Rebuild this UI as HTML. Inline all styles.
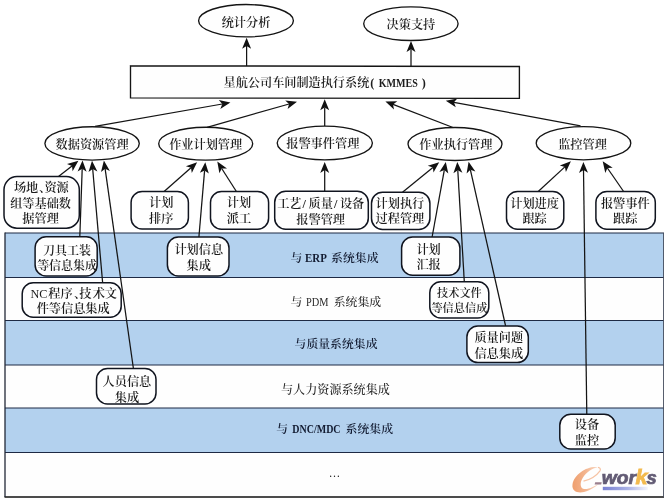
<!DOCTYPE html>
<html lang="zh"><head><meta charset="utf-8"><title>KMMES</title>
<style>
html,body{margin:0;padding:0;background:#ffffff;}
body{width:667px;height:502px;overflow:hidden;}
svg{display:block;will-change:transform;transform:translateZ(0);}
.t{font-family:"Liberation Serif","Noto Serif CJK SC","Noto Sans CJK SC",serif;font-size:12.2px;font-weight:600;fill:#1c1c1c;}
.ln{stroke:#141414;stroke-width:1.25;fill:none;}
.sh{stroke:#141414;stroke-width:1.35;fill:#fefefe;}
</style></head><body>
<svg width="667" height="502" viewBox="0 0 667 502">
<defs><linearGradient id="ug" x1="0" x2="1" y1="0" y2="0"><stop offset="0" stop-color="#7880d2"/><stop offset="0.55" stop-color="#aab2e6"/><stop offset="1" stop-color="#f4f5fc"/></linearGradient><linearGradient id="eg" x1="0" x2="1" y1="0" y2="0"><stop offset="0" stop-color="#ef9f6e"/><stop offset="0.45" stop-color="#f3b48e"/><stop offset="1" stop-color="#fae0cf"/></linearGradient></defs>
<rect x="0" y="0" width="667" height="502" fill="#ffffff"/>
<rect x="5" y="233" width="659" height="44.5" fill="#b3d1ee"/>
<rect x="5" y="277.5" width="659" height="43" fill="#fefefe"/>
<rect x="5" y="320.5" width="659" height="44.5" fill="#b3d1ee"/>
<rect x="5" y="365" width="659" height="43" fill="#fefefe"/>
<rect x="5" y="408" width="659" height="44.5" fill="#b3d1ee"/>
<rect x="5" y="452.5" width="659" height="44.5" fill="#fefefe"/>
<line x1="5" y1="233" x2="664" y2="233" stroke="#1e2a44" stroke-width="1.2"/>
<line x1="5" y1="277.5" x2="664" y2="277.5" stroke="#1e2a44" stroke-width="1.2"/>
<line x1="5" y1="320.5" x2="664" y2="320.5" stroke="#1e2a44" stroke-width="1.2"/>
<line x1="5" y1="365" x2="664" y2="365" stroke="#1e2a44" stroke-width="1.2"/>
<line x1="5" y1="408" x2="664" y2="408" stroke="#1e2a44" stroke-width="1.2"/>
<line x1="5" y1="452.5" x2="664" y2="452.5" stroke="#1e2a44" stroke-width="1.2"/>
<line x1="4.5" y1="497" x2="664" y2="497" stroke="#111" stroke-width="1.6"/>
<line x1="5" y1="232.5" x2="5" y2="497" stroke="#232836" stroke-width="1.3"/>
<line x1="663.5" y1="233" x2="663.5" y2="497" stroke="#454c5c" stroke-width="0.9"/>
<text class="t" x="290.4" y="261.5" text-anchor="start" style="font-size:11.9px;fill:#131c32">与</text>
<text class="t" x="305" y="261.5" text-anchor="start" style="font-size:11.9px;fill:#131c32;font-weight:bold" textLength="21.8" lengthAdjust="spacingAndGlyphs">ERP</text>
<text class="t" x="331" y="261.5" text-anchor="start" style="font-size:11.9px;fill:#131c32">系统集成</text>
<text class="t" x="290.4" y="305.8" text-anchor="start" style="font-size:11.9px;fill:#2a2a2a;font-weight:500">与</text>
<text class="t" x="306.1" y="305.8" text-anchor="start" style="font-size:11.9px;fill:#2a2a2a;font-weight:500" textLength="22.5" lengthAdjust="spacingAndGlyphs">PDM</text>
<text class="t" x="333.7" y="305.8" text-anchor="start" style="font-size:11.9px;fill:#2a2a2a;font-weight:500">系统集成</text>
<text class="t" x="294.6" y="348" text-anchor="start" style="font-size:11.85px;fill:#131c32">与质量系统集成</text>
<text class="t" x="281" y="394" text-anchor="start" style="font-size:12.1px;fill:#2a2a2a;font-weight:500">与人力资源系统集成</text>
<text class="t" x="276.2" y="432.6" text-anchor="start" style="font-size:11.9px;fill:#131c32">与</text>
<text class="t" x="292.3" y="432.6" text-anchor="start" style="font-size:11.9px;fill:#131c32;font-weight:bold" textLength="48.3" lengthAdjust="spacingAndGlyphs">DNC/MDC</text>
<text class="t" x="345.5" y="432.6" text-anchor="start" style="font-size:11.9px;fill:#131c32">系统集成</text>
<text class="t" x="334.4" y="477.2" text-anchor="middle" style="font-weight:400;font-size:11.5px">…</text>
<line class="ln" x1="58.5" y1="176.6" x2="72.0" y2="165.9"/>
<polygon fill="#111" points="78.4,160.8 72.6,171.2 72.0,165.9 67.0,164.1"/>
<line class="ln" x1="79.8" y1="237.0" x2="82.2" y2="168.8"/>
<polygon fill="#111" points="82.5,160.6 86.6,171.8 82.2,168.8 77.6,171.4"/>
<line class="ln" x1="102.6" y1="282.4" x2="92.7" y2="169.0"/>
<polygon fill="#111" points="92.0,160.8 97.4,171.4 92.7,169.0 88.5,172.1"/>
<line class="ln" x1="133.4" y1="368.5" x2="105.1" y2="168.7"/>
<polygon fill="#111" points="103.9,160.6 109.9,170.9 105.1,168.7 101.0,172.1"/>
<line class="ln" x1="164.1" y1="191.5" x2="191.0" y2="167.7"/>
<polygon fill="#111" points="197.1,162.3 191.8,173.0 191.0,167.7 185.9,166.2"/>
<line class="ln" x1="198.9" y1="237.0" x2="204.6" y2="170.4"/>
<polygon fill="#111" points="205.3,162.2 208.8,173.5 204.6,170.4 199.9,172.8"/>
<line class="ln" x1="236.4" y1="191.5" x2="221.7" y2="168.5"/>
<polygon fill="#111" points="217.3,161.6 227.0,168.4 221.7,168.5 219.4,173.3"/>
<line class="ln" x1="324.7" y1="191.3" x2="324.7" y2="170.1"/>
<polygon fill="#111" points="324.7,161.9 329.2,172.9 324.7,170.1 320.2,172.9"/>
<line class="ln" x1="402.5" y1="192.2" x2="432.9" y2="167.4"/>
<polygon fill="#111" points="439.2,162.2 433.5,172.6 432.9,167.4 427.8,165.7"/>
<line class="ln" x1="432.1" y1="237.0" x2="444.3" y2="170.1"/>
<polygon fill="#111" points="445.8,162.0 448.3,173.6 444.3,170.1 439.4,172.0"/>
<line class="ln" x1="464.3" y1="281.8" x2="457.8" y2="170.2"/>
<polygon fill="#111" points="457.3,162.0 462.4,172.7 457.8,170.2 453.4,173.2"/>
<line class="ln" x1="505.6" y1="326.0" x2="470.4" y2="169.8"/>
<polygon fill="#111" points="468.6,161.8 475.4,171.5 470.4,169.8 466.6,173.5"/>
<line class="ln" x1="538.2" y1="191.5" x2="564.9" y2="166.9"/>
<polygon fill="#111" points="570.9,161.3 565.9,172.1 564.9,166.9 559.8,165.5"/>
<line class="ln" x1="586.8" y1="414.2" x2="583.5" y2="170.1"/>
<polygon fill="#111" points="583.4,161.9 588.0,172.8 583.5,170.1 579.0,173.0"/>
<line class="ln" x1="623.6" y1="191.5" x2="607.4" y2="168.0"/>
<polygon fill="#111" points="602.7,161.3 612.7,167.8 607.4,168.0 605.3,172.9"/>
<line class="ln" x1="95.0" y1="126.4" x2="222.3" y2="104.0"/>
<polygon fill="#111" points="230.4,102.6 220.3,108.9 222.3,104.0 218.8,100.1"/>
<line class="ln" x1="207.0" y1="127.3" x2="289.1" y2="104.0"/>
<polygon fill="#111" points="297.0,101.8 287.6,109.1 289.1,104.0 285.2,100.5"/>
<line class="ln" x1="324.7" y1="126.2" x2="324.7" y2="107.5"/>
<polygon fill="#111" points="324.7,99.3 329.2,110.3 324.7,107.5 320.2,110.3"/>
<line class="ln" x1="453.0" y1="127.5" x2="393.0" y2="104.4"/>
<polygon fill="#111" points="385.4,101.4 397.3,101.2 393.0,104.4 394.0,109.6"/>
<line class="ln" x1="580.5" y1="125.8" x2="453.9" y2="102.3"/>
<polygon fill="#111" points="445.8,100.8 457.4,98.4 453.9,102.3 455.8,107.2"/>
<line class="ln" x1="246.6" y1="66.0" x2="246.6" y2="46.0"/>
<polygon fill="#111" points="246.6,37.8 251.1,48.8 246.6,46.0 242.1,48.8"/>
<line class="ln" x1="411.0" y1="66.3" x2="411.0" y2="49.2"/>
<polygon fill="#111" points="411.0,41.0 415.5,52.0 411.0,49.2 406.5,52.0"/>
<ellipse class="sh" cx="246" cy="20.7" rx="47.4" ry="16.2"/>
<text class="t" x="246" y="26.9" text-anchor="middle">统计分析</text>
<ellipse class="sh" cx="410.9" cy="23.7" rx="47.2" ry="16.8"/>
<text class="t" x="410.9" y="28.9" text-anchor="middle">决策支持</text>
<ellipse class="sh" cx="92.1" cy="143.4" rx="47.2" ry="16.7"/>
<text class="t" x="92.1" y="148.6" text-anchor="middle">数据资源管理</text>
<ellipse class="sh" cx="205.7" cy="143.7" rx="47" ry="16.4"/>
<text class="t" x="205.7" y="148.9" text-anchor="middle">作业计划管理</text>
<ellipse class="sh" cx="324.8" cy="143" rx="47.6" ry="16.9"/>
<text class="t" x="322.8" y="148.2" text-anchor="middle">报警事件管理</text>
<ellipse class="sh" cx="455" cy="144" rx="47" ry="16.5"/>
<text class="t" x="455.9" y="149.2" text-anchor="middle">作业执行管理</text>
<ellipse class="sh" cx="583.5" cy="143.2" rx="47.3" ry="16.6"/>
<text class="t" x="582.5" y="149.2" text-anchor="middle">监控管理</text>
<polygon class="sh" points="130.5,65.8 519.4,66.5 519.4,98.4 130.5,97.9"/>
<text class="t" x="223.6" y="86.6" text-anchor="start" style="font-size:12.15px;fill:#1c1c1c">星航公司车间制造执行系统</text>
<text class="t" x="370.3" y="86.6" text-anchor="start" style="font-size:12.15px;fill:#1c1c1c">(</text>
<text class="t" x="378.7" y="86.6" text-anchor="start" style="font-size:12.15px;fill:#1c1c1c;font-weight:bold" textLength="39.3" lengthAdjust="spacingAndGlyphs">KMMES</text>
<text class="t" x="421.8" y="86.6" text-anchor="start" style="font-size:12.15px;fill:#1c1c1c">)</text>
<rect class="sh" style="stroke-width:1.5;stroke:#10141f" x="4" y="176.6" width="75.3" height="51.6" rx="13" ry="13"/>
<text class="t" x="0" y="192.1" text-anchor="start"><tspan x="13.9">场地</tspan><tspan x="39">、</tspan><tspan x="44.4">资源</tspan></text>
<text class="t" x="40.6" y="207.6" text-anchor="middle">组等基础数</text>
<text class="t" x="40.6" y="223" text-anchor="middle">据管理</text>
<rect class="sh" style="stroke-width:1.5;stroke:#10141f" x="131.1" y="191.5" width="57.3" height="37.4" rx="11" ry="11"/>
<text class="t" x="161.2" y="207.1" text-anchor="middle">计划</text>
<text class="t" x="161.2" y="222.7" text-anchor="middle">排序</text>
<rect class="sh" style="stroke-width:1.5;stroke:#10141f" x="210.5" y="191.5" width="58.1" height="37.7" rx="11" ry="11"/>
<text class="t" x="238.9" y="207.1" text-anchor="middle">计划</text>
<text class="t" x="238.9" y="222.7" text-anchor="middle">派工</text>
<rect class="sh" style="stroke-width:1.5;stroke:#10141f" x="274.7" y="191.3" width="93.6" height="37.9" rx="11" ry="11"/>
<text class="t" x="320.7" y="207.9" text-anchor="middle">工艺<tspan dx="1.0">/</tspan><tspan dx="2.6">质量</tspan><tspan dx="1.0">/</tspan><tspan dx="2.6">设备</tspan></text>
<text class="t" x="320.7" y="223.5" text-anchor="middle">报警管理</text>
<rect class="sh" style="stroke-width:1.5;stroke:#10141f" x="371.5" y="192.2" width="58.4" height="37.3" rx="11" ry="11"/>
<text class="t" x="399.9" y="208" text-anchor="middle">计划执行</text>
<text class="t" x="399.9" y="223.4" text-anchor="middle">过程管理</text>
<rect class="sh" style="stroke-width:1.5;stroke:#10141f" x="506.5" y="191.5" width="57.3" height="37.8" rx="11" ry="11"/>
<text class="t" x="534.6" y="207.9" text-anchor="middle">计划进度</text>
<text class="t" x="534.6" y="223.4" text-anchor="middle">跟踪</text>
<rect class="sh" style="stroke-width:1.5;stroke:#10141f" x="595.9" y="191.5" width="59.4" height="37.8" rx="11" ry="11"/>
<text class="t" x="625.3" y="207.9" text-anchor="middle">报警事件</text>
<text class="t" x="625.3" y="223.4" text-anchor="middle">跟踪</text>
<rect class="sh" style="stroke-width:1.5;stroke:#10141f" x="35.1" y="236.8" width="62.1" height="39.1" rx="11" ry="11"/>
<text class="t" x="67" y="254.5" text-anchor="middle" style="font-size:11.95px">刀具工装</text>
<text class="t" x="67" y="269.9" text-anchor="middle" style="font-size:11.95px">等信息集成</text>
<rect class="sh" style="stroke-width:1.5;stroke:#10141f" x="167.4" y="237" width="61.6" height="38.9" rx="11" ry="11"/>
<text class="t" x="198.8" y="254.2" text-anchor="middle">计划信息</text>
<text class="t" x="198.8" y="269.7" text-anchor="middle">集成</text>
<rect class="sh" style="stroke-width:1.5;stroke:#10141f" x="401.6" y="237" width="58.3" height="38.2" rx="11" ry="11"/>
<text class="t" x="428.6" y="254" text-anchor="middle">计划</text>
<text class="t" x="428.6" y="269.4" text-anchor="middle">汇报</text>
<rect class="sh" style="stroke-width:1.5;stroke:#10141f" x="22.2" y="282.7" width="99" height="34.5" rx="11" ry="11"/>
<text class="t" x="0" y="298.1" text-anchor="start"><tspan x="30.4" style="font-weight:400">NC</tspan><tspan x="48.3">程序</tspan><tspan x="74">、</tspan><tspan x="79.3">技</tspan><tspan x="92.8">术</tspan><tspan x="104.8">文</tspan></text>
<text class="t" x="73.2" y="313.4" text-anchor="middle">件等信息集成</text>
<rect class="sh" style="stroke-width:1.5;stroke:#10141f" x="429.8" y="281.8" width="59" height="36.2" rx="11" ry="11"/>
<text class="t" x="459.4" y="297.1" text-anchor="middle" style="font-size:11.2px">技术文件</text>
<text class="t" x="459.4" y="311.8" text-anchor="middle" style="font-size:11.2px">等信息信成</text>
<rect class="sh" style="stroke-width:1.5;stroke:#10141f" x="466.9" y="326" width="61.4" height="36.6" rx="11" ry="11"/>
<text class="t" x="498.8" y="342.2" text-anchor="middle">质量问题</text>
<text class="t" x="498.8" y="357.7" text-anchor="middle">信息集成</text>
<rect class="sh" style="stroke-width:1.5;stroke:#10141f" x="96.5" y="368.5" width="59.5" height="35.5" rx="11" ry="11"/>
<text class="t" x="126.9" y="385.6" text-anchor="middle">人员信息</text>
<text class="t" x="126.9" y="402" text-anchor="middle">集成</text>
<rect class="sh" style="stroke-width:1.5;stroke:#10141f" x="559.8" y="414.2" width="55.4" height="34.7" rx="11" ry="11"/>
<text class="t" x="586.9" y="429.2" text-anchor="middle">设备</text>
<text class="t" x="586.9" y="445" text-anchor="middle">监控</text>
<g id="logo">
<path d="M598,467.3 C588,465.5 574,474 572.5,484.5 C571.5,491.5 578,493.5 584,492 C591,490.3 597,486 600.8,482.3 C595,486.5 588,489.8 584,489 C579.5,488 580,482 583,477.5 C586.5,472 592,468.5 598,467.3 Z" fill="url(#eg)"/>
<path d="M583.5,481.2 C590,479.5 597,475 600,470.8 C601,468.8 599.8,467.4 598,467.3" stroke="#f6c3a4" stroke-width="1.2" fill="none"/>
<path d="M595.2,482.2 L601.8,482.2 L601.2,484.6 L594.6,484.6 Z" fill="#9a7f8e"/>
<text x="601.8" y="484" font-family="'Liberation Sans',sans-serif" font-weight="bold" font-style="italic" font-size="17.5" fill="#625b74" stroke="#625b74" stroke-width="0.7" textLength="34.2" lengthAdjust="spacingAndGlyphs">wor</text>
<text x="635.6" y="484.4" font-family="'Liberation Sans',sans-serif" font-weight="bold" font-style="italic" font-size="20.5" fill="#f3ba4e" stroke="#f3ba4e" stroke-width="0.8" textLength="12" lengthAdjust="spacingAndGlyphs">k</text>
<text x="646.6" y="484" font-family="'Liberation Sans',sans-serif" font-weight="bold" font-style="italic" font-size="17.5" fill="#625b74" stroke="#625b74" stroke-width="0.7" textLength="10.2" lengthAdjust="spacingAndGlyphs">s</text>
<rect x="602.8" y="486.8" width="45" height="3.4" fill="url(#ug)"/>
</g>
</svg>
</body></html>
